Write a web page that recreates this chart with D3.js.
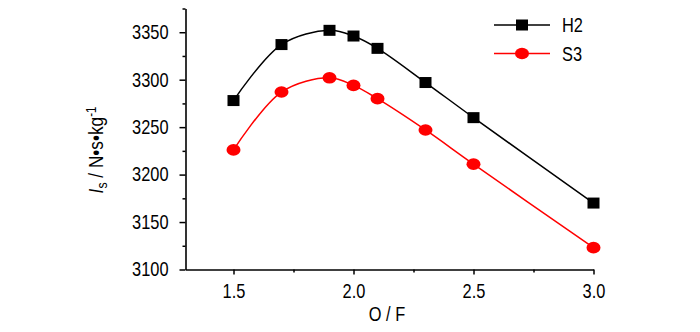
<!DOCTYPE html>
<html><head><meta charset="utf-8">
<script src="https://cdn.jsdelivr.net/npm/d3@7"></script>
<style>
body{margin:0;background:#fff}
text{font-family:"Liberation Sans",Arial,sans-serif;fill:#000}
</style>
</head><body>
<svg id="c" width="700" height="332"></svg>
<script>
// ---- data ----
const oF = [1.5, 1.7, 1.9, 2.0, 2.1, 2.3, 2.5, 3.0];
const h2 = [3278, 3337, 3352, 3346, 3333, 3297, 3260, 3170];
const s3 = [3226, 3287, 3302, 3294, 3280, 3247, 3211, 3123];
const seriesNames = ["H2", "S3"];
const xTicks = [1.5, 2.0, 2.5, 3.0];
const xMinor = [1.75, 2.25, 2.75];
const yTicks = [3100, 3150, 3200, 3250, 3300, 3350];
const yMinor = [3125, 3175, 3225, 3275, 3325, 3375];
const xLabel = "O / F";

// ---- layout ----
const FS = 20, SX = 0.82;
const svg = d3.select("#c");
const x = d3.scaleLinear().domain([1.3, 3.0]).range([185.5, 593.5]);
const y = d3.scaleLinear().domain([3100, 3375]).range([269.5, 8.5]);

function condense(sel) {
  sel.each(function () {
    const t = d3.select(this);
    const tx = +t.attr("x") || 0;
    t.attr("x", 0).attr("transform", `translate(${tx},0) scale(${SX},1)`);
  });
}

// minor ticks
svg.append("g").attr("transform", `translate(${x.range()[0]},0)`)
  .call(d3.axisLeft(y).tickValues(yMinor).tickSize(3).tickSizeOuter(0).tickFormat(""))
  .call(g => g.select(".domain").remove());
svg.append("g").attr("transform", `translate(0,${y.range()[0]})`)
  .call(d3.axisBottom(x).tickValues(xMinor).tickSize(3).tickSizeOuter(0).tickFormat(""))
  .call(g => g.select(".domain").remove());

// major axes
const gy = svg.append("g").attr("transform", `translate(${x.range()[0]},0)`)
  .call(d3.axisLeft(y).tickValues(yTicks).tickSize(6).tickSizeOuter(0).tickPadding(11).tickFormat(d3.format("d")));
const gx = svg.append("g").attr("transform", `translate(0,${y.range()[0]})`)
  .call(d3.axisBottom(x).tickValues(xTicks).tickSize(5).tickSizeOuter(0).tickPadding(9).tickFormat(d3.format(".1f")));
[gy, gx].forEach(g => {
  g.attr("font-family", null).attr("font-size", null);
  g.selectAll("text").style("font-size", FS + "px").call(condense);
  g.selectAll("path").attr("stroke", "#000").attr("stroke-width", 1.6);
});
svg.selectAll("g line").attr("stroke", "#000").attr("stroke-width", 1.5);

// axis titles
svg.append("text").attr("transform", `translate(387,321) scale(${SX},1)`)
  .attr("text-anchor", "middle").style("font-size", FS + "px").text(xLabel);
const yt = svg.append("text").attr("transform", `translate(103,150) rotate(-90) scale(${SX},1)`)
  .attr("text-anchor", "middle").style("font-size", "21px");
yt.append("tspan").style("font-style", "italic").text("I");
yt.append("tspan").attr("baseline-shift", "-25%").style("font-size", "15px").text("s");
yt.append("tspan").text(" / N\u2022s\u2022kg");
yt.append("tspan").attr("baseline-shift", "45%").style("font-size", "14px").text("-1");

// series
const series = [
  { name: seriesNames[0], vals: h2, color: "#000000", shape: "square" },
  { name: seriesNames[1], vals: s3, color: "#ff0000", shape: "circle" }
];
const line = d3.line().x(d => x(d[0])).y(d => y(d[1])).curve(d3.curveCatmullRom.alpha(0.5));

function marker(g, shape, color, cx, cy) {
  if (shape === "square") {
    g.append("rect").attr("x", cx - 6).attr("y", cy - 5.5).attr("width", 12).attr("height", 11).attr("fill", color);
  } else {
    g.append("ellipse").attr("cx", cx).attr("cy", cy).attr("rx", 7).attr("ry", 5.8).attr("fill", color);
  }
}

series.forEach((s, i) => {
  const pts = oF.map((v, j) => [v, s.vals[j]]);
  svg.append("path").datum(pts).attr("d", line).attr("fill", "none")
    .attr("stroke", s.color).attr("stroke-width", 1.5);
  const g = svg.append("g");
  pts.forEach(p => marker(g, s.shape, s.color, x(p[0]), y(p[1])));

  // legend
  const ly = 25 + i * 28.5;
  svg.append("line").attr("x1", 494).attr("x2", 550).attr("y1", ly).attr("y2", ly)
    .attr("stroke", s.color).attr("stroke-width", 1.5);
  marker(svg, s.shape, s.color, 522, ly);
  svg.append("text").attr("transform", `translate(562,${ly + 7}) scale(${SX},1)`)
    .style("font-size", FS + "px").text(s.name);
});
</script>
</body></html>
